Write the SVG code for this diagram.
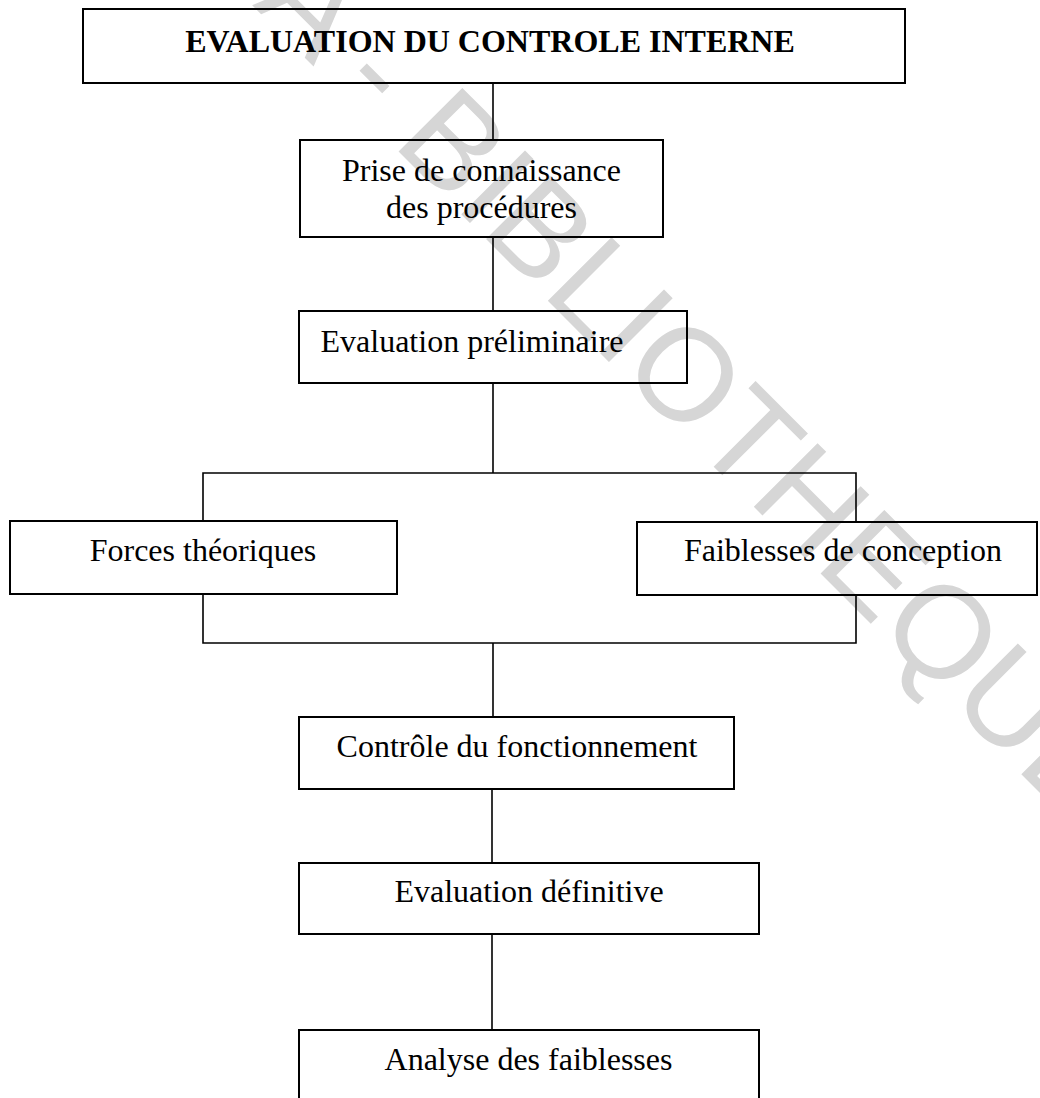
<svg xmlns="http://www.w3.org/2000/svg" width="1040" height="1098" viewBox="0 0 1040 1098">
<style>
.box{fill:none;stroke:#000;stroke-width:2}
.lbl{font-family:"Liberation Serif","Times New Roman",serif;font-size:32px;fill:#000;text-anchor:middle}
.ttl{font-weight:bold}
.wm{font-family:"Liberation Sans",Arial,sans-serif;font-size:131px;fill:#d6d6d6}
#connectors path{fill:none;stroke:#000;stroke-width:1.6}
</style>
<rect width="1040" height="1098" fill="#fff"/>
<text class="wm" transform="translate(-170,-417) rotate(45)">CODESRIA - BIBLIOTHEQUE</text>
<g id="connectors">
<path d="M493 83V140"/>
<path d="M493 237V311"/>
<path d="M493 383V473"/>
<path d="M203 521V473H856V522"/>
<path d="M203 594V643H856V595"/>
<path d="M493 643V717"/>
<path d="M492 789V863"/>
<path d="M492 934V1030"/>
</g>
<g id="n-title">
<rect class="box" x="83" y="9" width="822" height="74"/>
<text class="lbl ttl" x="490" y="52">EVALUATION DU CONTROLE INTERNE</text>
</g>
<g id="n-prise">
<rect class="box" x="300" y="140" width="363" height="97"/>
<text class="lbl" x="481.5" y="181">Prise de connaissance</text>
<text class="lbl" x="481.5" y="218">des procédures</text>
</g>
<g id="n-prelim">
<rect class="box" x="299" y="311" width="388" height="72"/>
<text class="lbl" x="472" y="352">Evaluation préliminaire</text>
</g>
<g id="n-forces">
<rect class="box" x="10" y="521" width="387" height="73"/>
<text class="lbl" x="203" y="561">Forces théoriques</text>
</g>
<g id="n-faiblesses">
<rect class="box" x="637" y="522" width="400" height="73"/>
<text class="lbl" x="843" y="561">Faiblesses de conception</text>
</g>
<g id="n-controle">
<rect class="box" x="299" y="717" width="435" height="72"/>
<text class="lbl" x="517" y="757">Contrôle du fonctionnement</text>
</g>
<g id="n-definitive">
<rect class="box" x="299" y="863" width="460" height="71"/>
<text class="lbl" x="529" y="902">Evaluation définitive</text>
</g>
<g id="n-analyse">
<rect class="box" x="299" y="1030" width="460" height="90"/>
<text class="lbl" x="528.5" y="1070">Analyse des faiblesses</text>
</g>
</svg>
